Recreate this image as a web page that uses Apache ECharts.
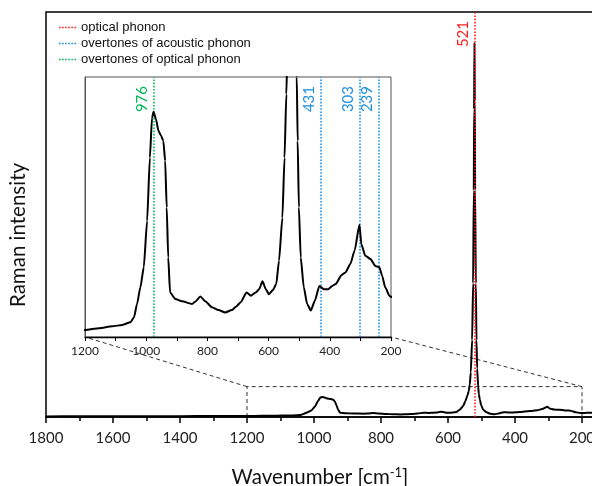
<!DOCTYPE html>
<html>
<head>
<meta charset="utf-8">
<script src="https://cdn.jsdelivr.net/npm/echarts@6/dist/echarts.min.js"></script>
<style>
  html, body { margin: 0; padding: 0; background: #fff; }
  #chart { width: 592px; height: 486px; }
</style>
</head>
<body>
<div id="chart"></div>
<script>
// Raman spectrum: wavenumber (cm^-1) and intensity (arbitrary units)
const wavenumbers = [
  1800, 1700, 1600, 1500, 1400, 1300, 1200, 1154, 1111, 1078, 1051, 1040, 1030, 1019,
  1008, 997, 988, 981, 976, 968, 960, 951, 944, 938, 933, 928, 922, 905, 883, 850,
  840, 823, 807, 785, 764, 742, 720, 707, 691, 672, 658, 642, 631, 620, 609, 599,
  586, 575, 566, 555, 548, 542, 538, 535, 532, 528, 525, 523, 522, 521, 520, 519,
  517, 515, 513, 510, 508, 505, 501, 495, 485, 474, 462, 449, 434, 420, 405, 392,
  381, 362, 349, 333, 319, 303, 297, 284, 267, 251, 238, 229, 219, 205, 200, 185, 170
];
const intensities = [
  1.5, 1.6, 1.8, 2.0, 2.1, 2.3, 2.5, 2.9, 3.3, 3.6, 4.2, 5.2, 8.1, 11.7,
  16.0, 26.0, 39.6, 48.2, 49.5, 47.9, 45.4, 44.3, 43.2, 38.9, 28.9, 18.1, 10.6, 9.2, 8.7, 8.1,
  8.6, 9.7, 8.7, 7.4, 6.8, 6.3, 6.8, 7.5, 8.5, 10.6, 9.9, 10.6, 11.3, 13.0, 11.3, 10.2,
  11.1, 12.4, 17.4, 26.7, 39.6, 53.3, 64, 80, 110, 190, 330, 560, 760, 924, 780, 560,
  330, 190, 120, 75, 57, 43.2, 28.9, 18.1, 11.7, 8.1, 6.7, 8.8, 12.0, 11.3, 11.3, 12.0,
  12.4, 14.3, 14.9, 16.7, 19.6, 25.2, 21.0, 18.5, 17.8, 16.3, 16.0, 14.2, 11.7, 9.9, 9.6, 10.2, 10.6
];

// Assigned peak positions (cm^-1)
const opticalPhonon = [521];
const acousticOvertones = [431, 303, 239];
const opticalOvertones = [976];

// Axis ranges
const mainRange = [0, 1800];
const mainIntensityRange = [0, 1000];
const insetRange = [200, 1200];
const insetIntensityRange = [1, 57];

// Region of the full spectrum that is magnified in the inset
const zoomWindow = [1200, 200];
const zoomWindowTop = 75;

const names = ['optical phonon', 'overtones of acoustic phonon', 'overtones of optical phonon'];
const RED = '#ff1a1a', BLUE = '#1a8fdc', GREEN = '#00b859';

// short dotted stroke used as the legend key
const DOTTED_KEY = 'path://M0 0h1.6v1.6H0zM3.1 0h1.6v1.6H3.1zM6.2 0h1.6v1.6H6.2zM9.3 0h1.6v1.6H9.3zM12.4 0h1.6v1.6H12.4zM15.5 0h1.6v1.6H15.5z';

const spectrum = wavenumbers.map((w, i) => [w, intensities[i]]);

const chart = echarts.init(document.getElementById('chart'), null, { renderer: 'canvas' });

function peakMarks(values, color) {
  return {
    symbol: 'none',
    silent: true,
    animation: false,
    lineStyle: { color: color, type: 'dotted', width: 1.6 },
    label: {
      show: true,
      position: 'insideEndTop',
      formatter: p => p.name,
      color: color,
      fontFamily: 'Lato',
      fontSize: 15,
      distance: [9, 4]
    },
    emphasis: { disabled: true },
    data: values.map(v => ({ xAxis: v, name: String(v) }))
  };
}

const numFont = 'Lato';

chart.setOption({
  animation: false,
  backgroundColor: '#fff',
  legend: {
    orient: 'vertical',
    left: 59,
    top: 21,
    itemWidth: 17,
    itemHeight: 1.6,
    itemGap: 3,
    padding: 0,
    icon: DOTTED_KEY,
    selectedMode: false,
    data: names,
    textStyle: { fontFamily: 'Liberation Sans', fontSize: 13, color: '#111', lineHeight: 13 }
  },
  grid: [
    { left: 46, top: 12, right: -57, bottom: 69, show: true, borderColor: '#000', borderWidth: 1.5,
      outerBoundsMode: 'none', containLabel: false },
    { left: 85, top: 77, right: 201, bottom: 149, show: true, backgroundColor: '#fff',
      borderColor: '#555', borderWidth: 1, outerBoundsMode: 'none', containLabel: false, z: 5 }
  ],
  xAxis: [
    {
      type: 'value', gridIndex: 0, inverse: true,
      min: mainRange[0], max: mainRange[1], interval: 200,
      axisLine: { show: true, onZero: false, lineStyle: { color: '#000', width: 1.5 } },
      axisTick: { show: true, length: 6, lineStyle: { color: '#000', width: 1.5 } },
      minorTick: { show: true, splitNumber: 2, length: 4, lineStyle: { color: '#000', width: 1.5 } },
      axisLabel: { fontFamily: numFont, fontSize: 15, color: '#222', margin: 14, formatter: v => String(v) },
      splitLine: { show: false }, minorSplitLine: { show: false }
    },
    {
      type: 'value', gridIndex: 1, inverse: true,
      min: insetRange[0], max: insetRange[1], interval: 100,
      axisLine: { show: true, onZero: false, lineStyle: { color: '#000', width: 1.3 } },
      axisTick: { show: true, length: 4, lineStyle: { color: '#000', width: 1 } },
      axisLabel: { fontFamily: numFont, fontSize: 12, color: '#222', margin: 8,
        formatter: v => (v % 200 === 0 ? String(v) : '') },
      splitLine: { show: false }, z: 6
    }
  ],
  yAxis: [
    {
      type: 'value', gridIndex: 0, min: mainIntensityRange[0], max: mainIntensityRange[1],
      axisLine: { show: true, lineStyle: { color: '#000', width: 1.5 } },
      axisTick: { show: false }, axisLabel: { show: false }, splitLine: { show: false }
    },
    {
      type: 'value', gridIndex: 1, min: insetIntensityRange[0], max: insetIntensityRange[1],
      axisLine: { show: true, lineStyle: { color: '#555', width: 1 } },
      axisTick: { show: false }, axisLabel: { show: false }, splitLine: { show: false }, z: 6
    }
  ],
  series: [
    {
      name: 'spectrum', type: 'line', xAxisIndex: 0, yAxisIndex: 0, data: spectrum,
      showSymbol: false, smooth: 0.2, smoothMonotone: 'x', clip: true, z: 2,
      lineStyle: { color: '#000', width: 2 }, silent: true
    },
    {
      name: 'spectrum (detail)', type: 'line', xAxisIndex: 1, yAxisIndex: 1, data: spectrum,
      showSymbol: false, smooth: 0.2, smoothMonotone: 'x', clip: true, z: 7,
      lineStyle: { color: '#000', width: 2 }, silent: true
    },
    {
      name: names[0], type: 'line', xAxisIndex: 0, yAxisIndex: 0, data: [], symbol: 'none', z: 4,
      itemStyle: { color: RED }, lineStyle: { color: RED, type: 'dotted', width: 1.6 },
      markLine: peakMarks(opticalPhonon, RED)
    },
    {
      name: names[1], type: 'line', xAxisIndex: 1, yAxisIndex: 1, data: [], symbol: 'none', z: 8,
      itemStyle: { color: BLUE }, lineStyle: { color: BLUE, type: 'dotted', width: 1.6 },
      markLine: peakMarks(acousticOvertones, BLUE)
    },
    {
      name: names[2], type: 'line', xAxisIndex: 1, yAxisIndex: 1, data: [], symbol: 'none', z: 8,
      itemStyle: { color: GREEN }, lineStyle: { color: GREEN, type: 'dotted', width: 1.6 },
      markLine: peakMarks(opticalOvertones, GREEN)
    }
  ]
});

// Dashed window on the full spectrum and the guide lines to the inset corners
const mainPx = (x, y) => chart.convertToPixel({ xAxisIndex: 0, yAxisIndex: 0 }, [x, y]);
const insetPx = (x, y) => chart.convertToPixel({ xAxisIndex: 1, yAxisIndex: 1 }, [x, y]);

const boxBL = mainPx(zoomWindow[0], mainIntensityRange[0]);
const boxTL = mainPx(zoomWindow[0], zoomWindowTop);
const boxTR = mainPx(zoomWindow[1], zoomWindowTop);
const boxBR = mainPx(zoomWindow[1], mainIntensityRange[0]);
const insetBL = insetPx(insetRange[1], insetIntensityRange[0]);
const insetBR = insetPx(insetRange[0], insetIntensityRange[0]);

const dash = { stroke: '#333', lineWidth: 1, lineDash: [4, 3], fill: null };

chart.setOption({
  graphic: [
    { type: 'polyline', z: 1, silent: true, shape: { points: [boxBL, boxTL, boxTR, boxBR] }, style: dash },
    { type: 'polyline', z: 1, silent: true, shape: { points: [boxTL, insetBL] }, style: dash },
    { type: 'polyline', z: 1, silent: true, shape: { points: [boxTR, insetBR] }, style: dash },
    {
      type: 'text', x: 18, y: 235, rotation: Math.PI / 2, silent: true,
      style: { text: 'Raman intensity', fontFamily: 'Lato', fontSize: 20.5, fill: '#111',
        align: 'center', verticalAlign: 'middle' }
    },
    {
      type: 'text', x: 320, y: 477, silent: true,
      style: {
        text: 'Wavenumber [cm{sup|-1}]', fontFamily: 'Lato', fontSize: 20.5, fill: '#111',
        align: 'center', verticalAlign: 'middle',
        rich: { sup: { fontFamily: 'Lato', fontSize: 13, fill: '#111', padding: [0, 0, 9, 0], verticalAlign: 'bottom' } }
      }
    }
  ]
});
</script>
</body>
</html>
